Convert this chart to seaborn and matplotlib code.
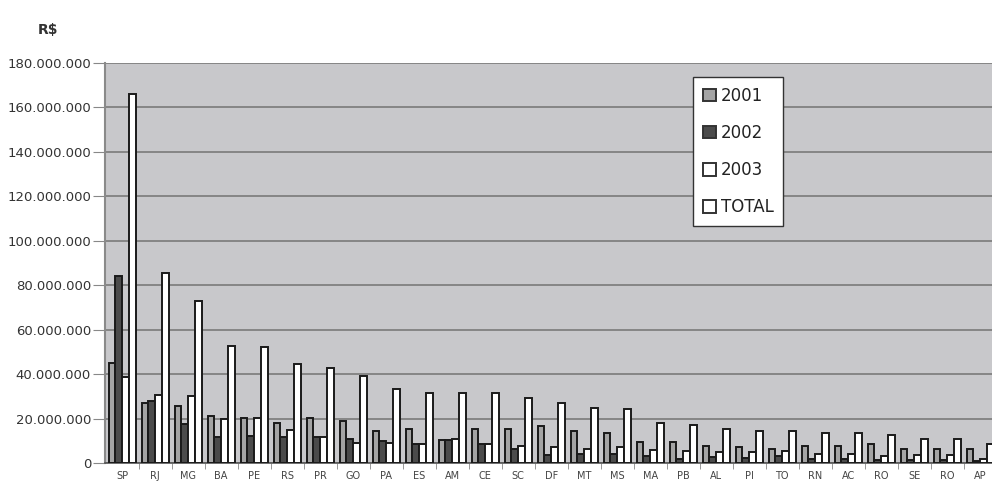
import numpy as np
import pandas as pd
import matplotlib
matplotlib.use("Agg")
import matplotlib.pyplot as plt
import seaborn as sns
from matplotlib.ticker import FuncFormatter, FixedLocator

states = ["SP", "RJ", "MG", "BA", "PE", "RS", "PR", "GO", "PA", "ES", "AM", "CE", "SC", "DF",
          "MT", "MS", "MA", "PB", "AL", "PI", "TO", "RN", "AC", "RO", "SE", "RO", "AP"]
v2001 = [45, 27, 25.7, 21.2, 20.4, 17.9, 20.2, 19, 14.5, 15.2, 10.2, 15.2, 15.2, 16.7,
         14.5, 13.3, 9.3, 9.6, 7.5, 7.3, 6.2, 7.5, 7.5, 8.7, 6.2, 6.2, 6.2]
v2002 = [84, 28, 17.5, 11.8, 12, 11.5, 11.5, 10.7, 10, 8.5, 10.5, 8.5, 6.3, 3.8,
         4, 4, 3.2, 1.8, 2.8, 2.3, 3, 2, 2, 1.3, 1.2, 1.2, 0.8]
v2003 = [38.5, 30.5, 30, 20, 20.4, 14.9, 11.5, 9.2, 9.2, 8.5, 10.7, 8.5, 7.8, 7,
         6.3, 7, 5.8, 5.5, 5, 5, 5.5, 4, 4, 3.1, 3.7, 3.7, 1.8]
total = [166, 85.5, 72.7, 52.8, 52.2, 44.6, 42.8, 39, 33.1, 31.7, 31.7, 31.7, 29.4, 27.2,
         24.9, 24.2, 18.2, 17, 15.2, 14.5, 14.5, 13.4, 13.4, 12.7, 10.7, 10.7, 8.5]
series_names = ["2001", "2002", "2003", "TOTAL"]
series_colors = ["#a4a4a4", "#4b4b4b", "#ffffff", "#ffffff"]
yticks = [0, 20e6, 40e6, 60e6, 80e6, 100e6, 120e6, 140e6, 160e6, 180e6]

rows = []
for name, vals in zip(series_names, [v2001, v2002, v2003, total]):
    for i, v in enumerate(vals):
        rows.append({"idx": i, "serie": name, "valor": v * 1e6})
df = pd.DataFrame(rows)

fig = plt.figure(figsize=(9.92, 4.86), dpi=100)
ax = fig.add_axes([105 / 992, 1 - 463 / 486, 1 - 105 / 992, (463 - 62.7) / 486])
ax.set_facecolor("#c8c8cb")

sns.barplot(data=df, x="idx", y="valor", hue="serie", hue_order=series_names,
            palette=series_colors, width=0.82, edgecolor="#1a1a1a", linewidth=1.4,
            ax=ax, zorder=3, saturation=1)

ax.set_xlim(-0.52, 26.36)
ax.set_ylim(0, 180e6)
ax.yaxis.set_major_locator(FixedLocator(yticks))
ax.yaxis.set_major_formatter(FuncFormatter(lambda v, p: f"{int(round(v)):,}".replace(",", ".")))
ax.grid(axis="y", color="#7a7a7a", linewidth=1.2, zorder=0)
ax.set_axisbelow(True)

ax.set_xticks(range(len(states)))
ax.set_xticklabels(states, fontsize=7, color="#444444")
ax.set_xticks(np.arange(len(states) - 1) + 0.5, minor=True)
ax.tick_params(axis="x", which="major", length=0, pad=6)
ax.tick_params(axis="x", which="minor", length=4, color="#888888")
ax.tick_params(axis="y", labelsize=9.5, labelcolor="#333333", length=9, color="#888888", pad=1)
ax.set_xlabel("")
ax.set_ylabel("")

for s in ["top", "right"]:
    ax.spines[s].set_visible(False)
ax.spines["left"].set_color("#8a8a8a")
ax.spines["left"].set_linewidth(1.5)
ax.spines["bottom"].set_color("#555555")
ax.spines["bottom"].set_linewidth(1.2)

fig.text(38 / 992, 1 - 30 / 486, "R$", fontsize=10, fontweight="bold", color="#333333",
         ha="left", va="center")

leg = ax.legend(loc="upper left", bbox_to_anchor=(0.663, 0.965), frameon=True,
                fancybox=False, fontsize=12, handlelength=0.8, handleheight=0.8,
                handletextpad=0.25, labelspacing=1.15, borderpad=0.6, borderaxespad=0)
leg.get_frame().set_edgecolor("#333333")
leg.get_frame().set_linewidth(1.0)
leg.get_frame().set_facecolor("white")
leg.get_frame().set_alpha(1)
for t in leg.get_texts():
    t.set_color("#222222")
for h in leg.legend_handles:
    h.set_edgecolor("#333333")

fig.savefig("out.png", dpi=100)
